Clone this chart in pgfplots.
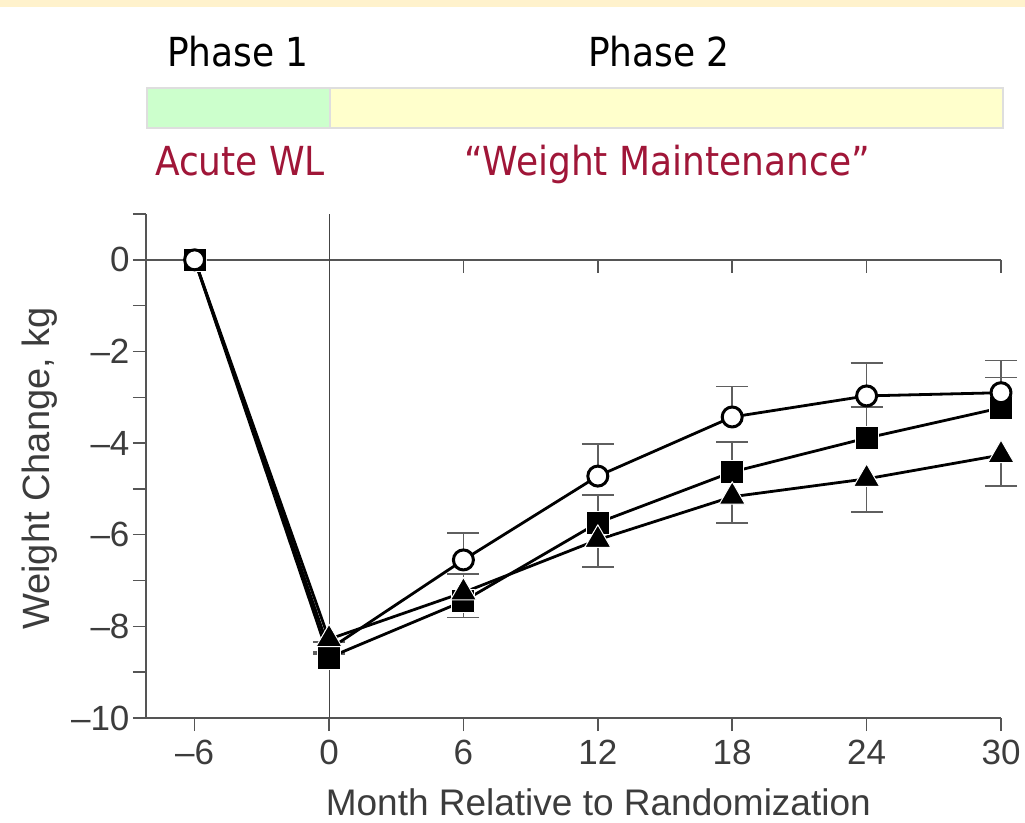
\documentclass[border=0pt]{standalone}
\usepackage{fontspec}
\setmainfont{Liberation Sans}
\newfontfamily\headfont[FakeStretch=0.9]{DejaVu Sans}
\usepackage{pgfplots}
\pgfplotsset{compat=1.18}

\definecolor{bandtop}{RGB}{255,242,204}
\definecolor{phasegreen}{RGB}{204,255,204}
\definecolor{phaseyellow}{RGB}{255,255,204}
\definecolor{phaseborder}{RGB}{222,222,222}
\definecolor{phasered}{RGB}{160,22,56}
\definecolor{axisgray}{RGB}{85,85,85}
\definecolor{labelgray}{RGB}{60,60,60}
\definecolor{errgray}{RGB}{95,95,95}

\pgfplotsset{errstyle/.style={draw=none, mark=none, forget plot,
  error bars/.cd, y explicit, y dir=#1,
  error bar style={errgray, line width=1.5pt},
  error mark options={rotate=90, mark size=16pt, errgray, line width=1.5pt}}}

\begin{document}
\begin{tikzpicture}[x=1pt,y=1pt]
\path[use as bounding box] (0,0) rectangle (1025,-822);
\fill[white] (0,0) rectangle (1025,-822);
\fill[bandtop] (0,0) rectangle (1025,-7);

% phase bar
\fill[phasegreen] (147,-88) rectangle (330,-128);
\fill[phaseyellow] (330,-88) rectangle (1003,-128);
\draw[phaseborder, line width=2pt] (147,-88) rectangle (1003,-128);
\draw[phaseborder, line width=1.5pt] (330,-88) -- (330,-128);
\node[font=\headfont\fontsize{40}{44}\selectfont, anchor=base, inner sep=0pt] at (238,-66) {Phase 1};
\node[font=\headfont\fontsize{40}{44}\selectfont, anchor=base, inner sep=0pt] at (659,-66) {Phase 2};
\node[font=\headfont\fontsize{40}{44}\selectfont, anchor=base, inner sep=0pt, text=phasered] at (240,-175) {Acute WL};
\node[font=\headfont\fontsize{40}{44}\selectfont, anchor=base, inner sep=0pt, text=phasered] at (667,-175) {“Weight Maintenance”};

\begin{axis}[
  at={(146pt,-718pt)}, anchor=south west,
  scale only axis, width=855pt, height=504pt,
  xmin=-8.17, xmax=30, ymin=-10, ymax=1,
  clip=false,
  axis x line*=bottom, axis y line*=left,
  axis line style={axisgray, line width=1.5pt, -},
  tick align=outside,
  xtick={-6,0,6,12,18,24,30},
  xticklabels={–6,0,6,12,18,24,30},
  ytick={-10,-8,-6,-4,-2,0},
  yticklabels={–10,–8,–6,–4,–2,0},
  minor ytick={-9,-7,-5,-3,-1,1},
  major tick length=13pt, minor tick length=13pt,
  tick style={axisgray, line width=1.5pt},
  ticklabel style={font=\fontsize{35}{40}\selectfont, text=labelgray},
  xticklabel style={yshift=-6pt},
  xlabel={Month Relative to Randomization},
  ylabel={Weight Change, kg},
  xlabel style={font=\fontsize{37}{42}\selectfont, text=labelgray,
    at={(axis description cs:0.529,-0.193)}, anchor=base},
  ylabel style={font=\fontsize{38}{42}\selectfont, text=labelgray,
    at={(axis description cs:-0.113,0.495)}, anchor=base},
]
% reference lines: zero change and randomization
\draw[axisgray, line width=1.5pt] (axis cs:-8.17,0) -- (axis cs:30,0);
\pgfplotsinvokeforeach{6,12,18,24,30}{
  \draw[axisgray, line width=1.5pt] (axis cs:#1,0) -- ++(0pt,-13pt);
}
\draw[axisgray!80!black, line width=1pt] (axis cs:0,-10) -- (axis cs:0,1);

% one-sided error bars (drawn beneath the series)
\addplot[errstyle=plus] coordinates {
  (0,-8.68) +- (0,0.12) (6,-7.45) +- (0,0.59) (12,-5.74) +- (0,0.61)
  (18,-4.63) +- (0,0.65) (24,-3.89) +- (0,0.68) (30,-3.23) +- (0,0.66)};
\addplot[errstyle=plus] coordinates {
  (0,-8.50) +- (0,0.16) (6,-6.55) +- (0,0.59) (12,-4.72) +- (0,0.70)
  (18,-3.43) +- (0,0.66) (24,-2.97) +- (0,0.72) (30,-2.90) +- (0,0.70)};
\addplot[errstyle=minus] coordinates {
  (0,-8.28) +- (0,0.32) (6,-7.26) +- (0,0.55) (12,-6.11) +- (0,0.59)
  (18,-5.17) +- (0,0.57) (24,-4.78) +- (0,0.72) (30,-4.26) +- (0,0.68)};

% filled squares
\addplot[black, line width=2.8pt, line join=round, mark=square*, mark size=11.5pt,
  mark options={fill=black, draw=white, line width=1pt}] coordinates {
  (-6,0) (0,-8.68) (6,-7.45) (12,-5.74) (18,-4.63) (24,-3.89) (30,-3.23)};
% open circles (the month-0 mark lies hidden under the other two)
\addplot[black, line width=2.8pt, line join=round, mark=*, mark size=10pt,
  mark indices={1,3,4,5,6,7},
  mark options={fill=white, draw=black, line width=3pt}] coordinates {
  (-6,0) (0,-8.50) (6,-6.55) (12,-4.72) (18,-3.43) (24,-2.97) (30,-2.90)};
% filled triangles (the baseline mark lies hidden under the square)
\addplot[black, line width=2.8pt, line join=round, mark=triangle*, mark size=15pt,
  mark indices={2,3,4,5,6,7},
  mark options={fill=black, draw=white, line width=1pt}] coordinates {
  (-6,0) (0,-8.28) (6,-7.26) (12,-6.11) (18,-5.17) (24,-4.78) (30,-4.26)};
\end{axis}
\end{tikzpicture}
\end{document}
